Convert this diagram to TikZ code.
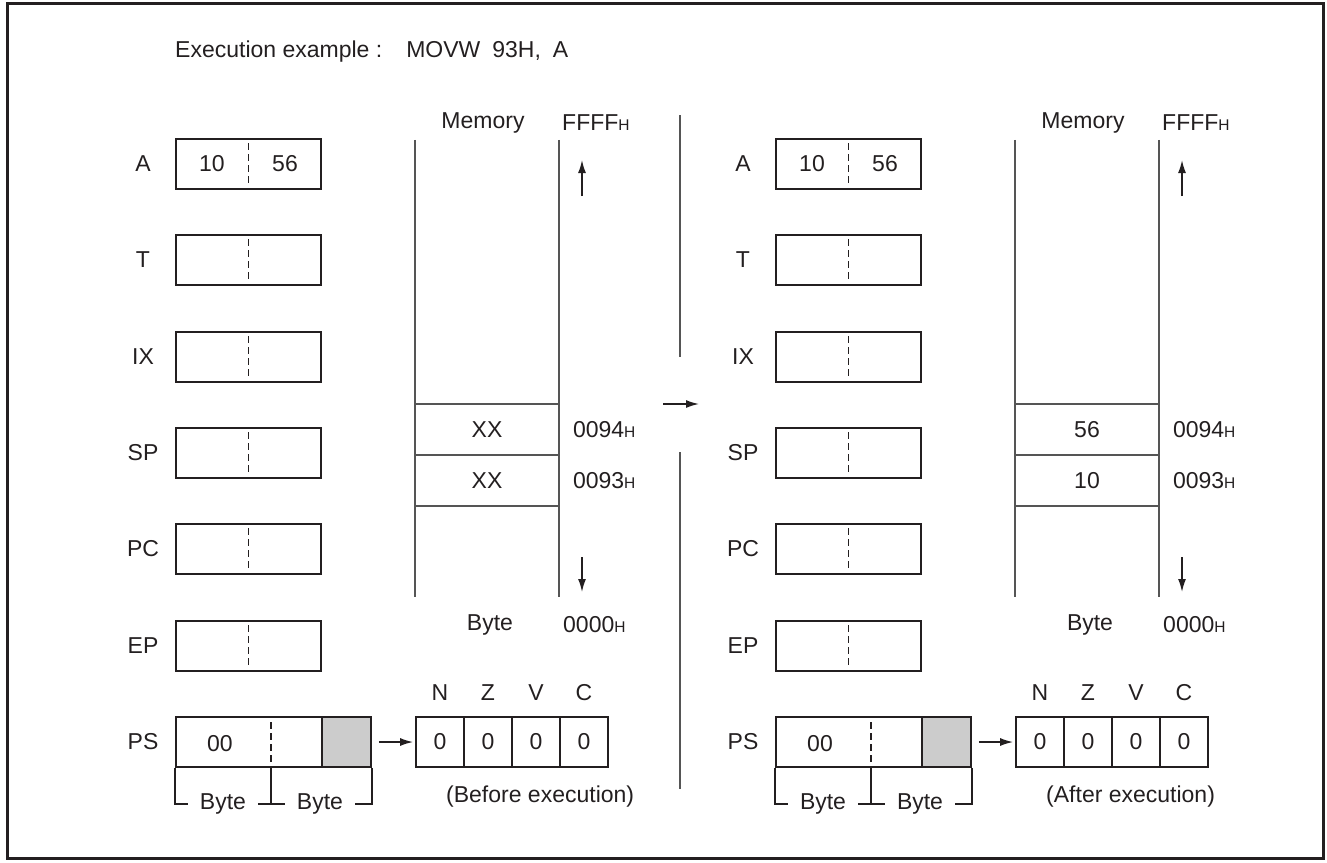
\documentclass[tikz,border=0pt]{standalone}
\usepackage{fontspec}
\setmainfont{Liberation Sans}
\usepackage{xcolor}
\usetikzlibrary{arrows.meta,positioning,calc}
\definecolor{ink}{HTML}{231F20}
\definecolor{rule}{HTML}{555555}
\definecolor{flagfill}{HTML}{CCCCCC}
\newcommand{\hsub}{{\fontsize{15.5}{15.5}\selectfont H}}

\begin{document}
\begin{tikzpicture}[
  x=1pt, y=-1pt,
  every node/.style={font=\fontsize{23}{27}\selectfont, text=ink, inner sep=0pt},
  reg/.style={draw=ink, line width=1.7pt, minimum width=145pt, minimum height=50pt},
  cell/.style={draw=ink, line width=1.7pt, minimum width=48pt, minimum height=50pt},
  mcell/.style={draw=rule, line width=1.7pt, minimum width=144pt, minimum height=51pt},
  midline/.style={draw=ink, line width=1.3pt, dash pattern=on 7pt off 4pt},
  memline/.style={draw=rule, line width=2.2pt},
  brk/.style={draw=ink, line width=1.6pt},
  bytelab/.style={inner sep=12pt},
  arr/.style={-{Latex[length=13pt,width=8pt]}, line width=1.6pt, draw=ink}
]
  \useasboundingbox (0,0) rectangle (1327,862);
  \draw[ink, line width=3pt] (7,3) rectangle (1323,858);

  \node[anchor=west] (title) at (175,52) {Execution example :\hspace{24pt}MOVW\hspace{12pt}93H,\hspace{12pt}A};

  \foreach \h/\ox/\va/\vb/\when in {0/0/XX/XX/Before, 1/600/56/10/After}{
    % registers
    \foreach \r/\y in {A/164, T/260, IX/357, SP/453, PC/549, EP/646}{
      \node (lab\r\h) at (143+\ox,\y) {\r};
      \node[reg] (reg\r\h) at (248.5+\ox,\y) {};
      \draw[midline] ([yshift=-5pt]reg\r\h.north) -- ([yshift=5pt]reg\r\h.south);
    }
    \node (hiA\h) at (212+\ox,164) {10};
    \node (loA\h) at (285+\ox,164) {56};

    % PS with byte brackets
    \node[reg, minimum width=195pt] (ps\h) at (273.5+\ox,742) {};
    \node[reg, minimum width=49pt, fill=flagfill] (psgray\h) at (346.5+\ox,742) {};
    \node (labPS\h) at (143+\ox,742) {PS};
    \node (psval\h) at (220+\ox,744) {00};
    \coordinate (pstop\h) at (271+\ox,717);
    \coordinate (psmid\h) at (271+\ox,767);
    \draw[midline] ([yshift=-5pt]pstop\h) -- ([yshift=5pt]psmid\h);
    \node[bytelab] (byteL\h) at (223+\ox,804) {Byte};
    \node[bytelab] (byteR\h) at (320+\ox,804) {Byte};
    \draw[brk] (ps\h.south west) |- (byteL\h.west);
    \draw[brk] (psmid\h) |- (byteL\h.east);
    \draw[brk] (psmid\h) |- (byteR\h.west);
    \draw[brk] (ps\h.south east) |- (byteR\h.east);

    % flags
    \foreach \f/\i in {N/0, Z/1, V/2, C/3}{
      \node[cell] (flag\f\h) at (440+48*\i+\ox,742) {0};
      \node (name\f\h) at (440+48*\i+\ox,693) {\f};
    }
    \draw[arr, shorten <=7pt, shorten >=2pt] (ps\h.east) -- (flagN\h.west);
    \node[anchor=west] (cap\h) at (446+\ox,797) {(\when\ execution)};

    % memory
    \node[minimum width=144pt, minimum height=457pt] (mem\h) at (487+\ox,368.5) {};
    \draw[memline] (mem\h.north west) -- (mem\h.south west);
    \draw[memline] (mem\h.north east) -- (mem\h.south east);
    \node[mcell] (mhi\h) at (487+\ox,429.5) {\va};
    \node[mcell] (mlo\h) at (487+\ox,480.5) {\vb};
    \node[right=13pt of mhi\h] (ahi\h) {0094\hsub};
    \node[right=13pt of mlo\h] (alo\h) {0093\hsub};
    \node (memlab\h) at (483+\ox,123) {Memory};
    \node[anchor=west] (atop\h) at (562+\ox,123) {FFFF\hsub};
    \node (memunit\h) at (490+\ox,625) {Byte};
    \node[anchor=west] (abot\h) at (563+\ox,625) {0000\hsub};
    \coordinate (upS\h) at (582+\ox,196);
    \coordinate (upE\h) at (582+\ox,160);
    \coordinate (dnS\h) at (582+\ox,557);
    \coordinate (dnE\h) at (582+\ox,592);
    \draw[arr] (upS\h) -- (upE\h);
    \draw[arr] (dnS\h) -- (dnE\h);
  }

  % divider and step arrow
  \coordinate (divA) at (680,115);
  \coordinate (divB) at (680,357);
  \coordinate (divC) at (680,452);
  \coordinate (divD) at (680,789);
  \draw[memline] (divA) -- (divB);
  \draw[memline] (divC) -- (divD);
  \coordinate (goS) at (663,404);
  \coordinate (goE) at (699,404);
  \draw[arr] (goS) -- (goE);
\end{tikzpicture}
\end{document}
